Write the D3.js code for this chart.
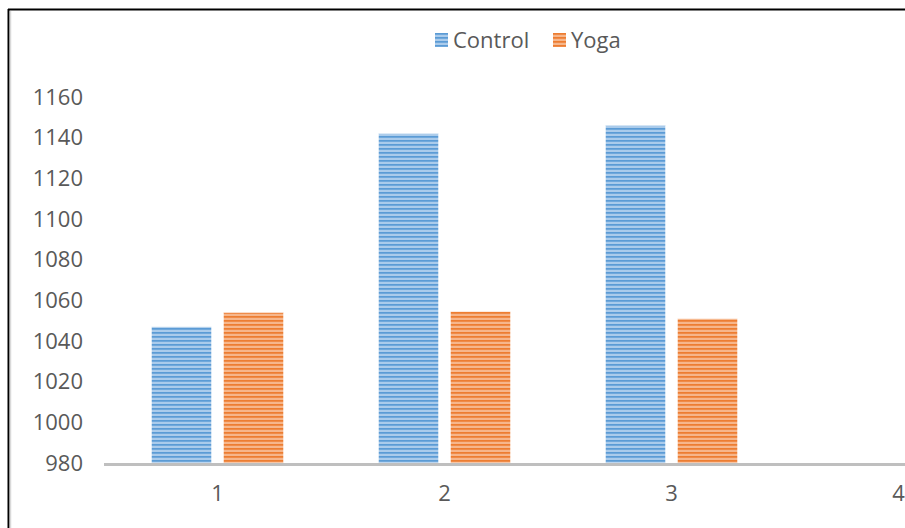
<!DOCTYPE html>
<html>
<head>
<meta charset="utf-8">
<script src="https://cdn.jsdelivr.net/npm/d3@7"></script>
<style>
  body { margin: 0; background: #fff; }
  svg { display: block; }
  text { font-family: 'Open Sans', sans-serif; fill: #595959; }
</style>
</head>
<body>
<svg width="905" height="528"></svg>
<script>
//## DATA ##
const categories = ['1', '2', '3', '4']
const seriesNames = ['Control', 'Yoga']
const controlValues = [1047, 1142, 1146, null]
const yogaValues = [1054, 1054.5, 1051, null]
const yTicks = [980, 1000, 1020, 1040, 1060, 1080, 1100, 1120, 1140, 1160]

//## SETUP ##
const svg = d3.select('svg')
const width = 905
const height = 528
// [dark, mid, light] stripe shades per series
const colors = { Control: ['#5b9bd5', '#86b5e2', '#cfe2f4'], Yoga: ['#ed7d31', '#f29a5e', '#fad3b8'] }

const scaleY = d3.scaleLinear().domain([980, 1160]).range([463, 97])
const scaleX = d3.scaleBand().domain(categories).range([104, 1012])
const scaleSub = d3.scaleBand().domain(seriesNames).range([0, 132]).paddingInner(0.1667)

// striped fills
const defs = svg.append('defs')
seriesNames.forEach(name => {
  const p = defs.append('pattern')
    .attr('id', 'stripe-' + name)
    .attr('patternUnits', 'userSpaceOnUse')
    .attr('width', 8).attr('height', 4)
  p.append('rect').attr('width', 8).attr('height', 4).attr('fill', colors[name][1])
  p.append('rect').attr('y', 0).attr('width', 8).attr('height', 1.5).attr('fill', colors[name][0])
  p.append('rect').attr('y', 2.5).attr('width', 8).attr('height', 1).attr('fill', colors[name][2])
})

// frame (cropped chart area)
svg.append('line').attr('x1', 8.5).attr('x2', 8.5).attr('y1', 9).attr('y2', height)
  .attr('stroke', '#000').attr('stroke-width', 2)
svg.append('line').attr('x1', 8).attr('x2', width).attr('y1', 9.5).attr('y2', 9.5)
  .attr('stroke', '#000').attr('stroke-width', 2)
svg.append('line').attr('x1', 10.5).attr('x2', 10.5).attr('y1', 11).attr('y2', height)
  .attr('stroke', '#d9d9d9').attr('stroke-width', 1.5)

//## Y AXIS ##
const yAxisGroup = svg.append('g')
  .attr('transform', 'translate(83,0)')
  .call(d3.axisLeft(scaleY).tickValues(yTicks).tickFormat(d3.format('d')).tickSize(0).tickPadding(0))
yAxisGroup.select('.domain').remove()
yAxisGroup.selectAll('text')
  .style('font-size', '22px')
  .style('font-family', "'Open Sans', sans-serif")
  .attr('fill', '#595959')

//## BARS ##
const rows = categories.map((c, i) => ({ category: c, Control: controlValues[i], Yoga: yogaValues[i] }))
const center = d => scaleX(d.category) + scaleX.bandwidth() / 2 - 66

svg.append('g').selectAll('g').data(rows)
  .enter().append('g')
  .attr('transform', d => 'translate(' + center(d) + ',0)')
  .selectAll('rect').data(d => seriesNames.map(s => ({ key: s, value: d[s] })).filter(v => v.value != null))
  .enter().append('rect')
    .attr('x', d => scaleSub(d.key))
    .attr('y', d => scaleY(d.value))
    .attr('width', scaleSub.bandwidth())
    .attr('height', d => scaleY(980) - scaleY(d.value))
    .attr('fill', d => 'url(#stripe-' + d.key + ')')
    .attr('stroke', 'rgba(255,255,255,0.45)')
    .attr('stroke-width', 1)

//## X AXIS ##
const xAxisGroup = svg.append('g')
  .attr('transform', 'translate(0,464.5)')
  .call(d3.axisBottom(scaleX).tickSize(0).tickPadding(21))
xAxisGroup.select('.domain').remove()
xAxisGroup.append('line')
  .attr('x1', 104).attr('x2', width).attr('y1', 0).attr('y2', 0)
  .attr('stroke', '#bfbfbf').attr('stroke-width', 3)
xAxisGroup.selectAll('.tick text')
  .style('font-size', '22px')
  .style('font-family', "'Open Sans', sans-serif")
  .attr('fill', '#595959')

//## LEGEND ##
const legendX = [435, 553]
const legend = svg.append('g').selectAll('g').data(seriesNames)
  .enter().append('g')
  .attr('transform', (d, i) => 'translate(' + legendX[i] + ',33)')
legend.append('rect')
  .attr('width', 13).attr('height', 14)
  .attr('fill', d => 'url(#stripe-' + d + ')')
legend.append('text')
  .attr('x', 18).attr('y', 15)
  .style('font-size', '22px')
  .text(d => d)
</script>
</body>
</html>
